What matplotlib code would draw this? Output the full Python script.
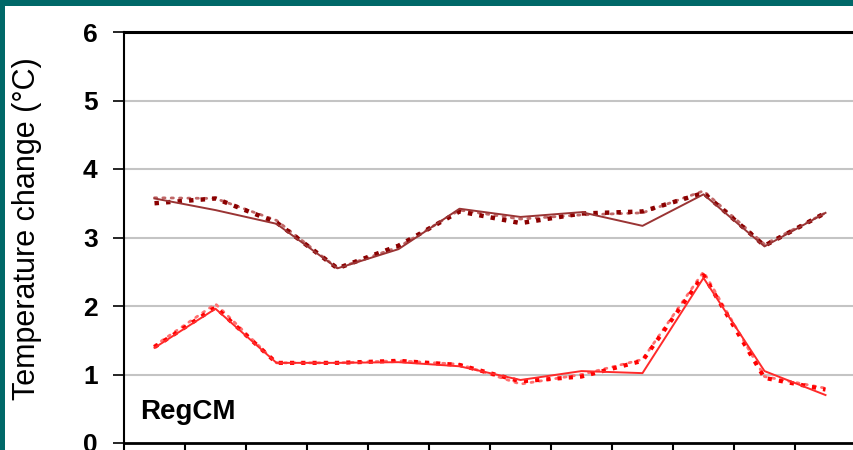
import matplotlib
matplotlib.use("Agg")
import matplotlib.pyplot as plt
from matplotlib.patches import Rectangle
import numpy as np

months = list(range(12))
dark_solid = [3.57, 3.40, 3.20, 2.55, 2.83, 3.42, 3.30, 3.37, 3.17, 3.63, 2.87, 3.36]
dark_square = [3.50, 3.57, 3.22, 2.55, 2.88, 3.38, 3.21, 3.35, 3.38, 3.65, 2.88, 3.36]
dark_round = [3.58, 3.57, 3.25, 2.55, 2.86, 3.40, 3.27, 3.33, 3.36, 3.68, 2.90, 3.36]
red_solid = [1.39, 1.96, 1.17, 1.17, 1.18, 1.12, 0.92, 1.05, 1.02, 2.41, 1.05, 0.70]
red_square = [1.40, 1.98, 1.17, 1.17, 1.20, 1.14, 0.90, 0.97, 1.20, 2.45, 0.95, 0.78]
red_round = [1.42, 2.03, 1.17, 1.17, 1.20, 1.15, 0.86, 1.00, 1.22, 2.50, 0.97, 0.80]
yticks = [0, 1, 2, 3, 4, 5, 6]
ylabel = "Temperature change (°C)"
panel_label = "RegCM"

plt.rcParams['font.family'] = ['Liberation Sans', 'DejaVu Sans']

W, H = 854, 450
fig = plt.figure(figsize=(W / 100, H / 100), dpi=100)
fig.patch.set_facecolor('white')
teal = '#006868'
fig.patches.append(Rectangle((0, 1 - 6 / H), 1, 6 / H, transform=fig.transFigure,
                             facecolor=teal, edgecolor='none', zorder=0))
fig.patches.append(Rectangle((0, 0), 5 / W, 1, transform=fig.transFigure,
                             facecolor=teal, edgecolor='none', zorder=0))

left, right, top, bottom = 124, 856, 32, 443
ax = fig.add_axes([left / W, (H - bottom) / H, (right - left) / W, (bottom - top) / H])
ax.set_facecolor('white')

ax.plot(months, dark_round, color='#C06868', lw=2.0, linestyle=(0, (0.8, 2.2)),
        dash_capstyle='round', zorder=3)
ax.plot(months, dark_square, color='#8B0000', lw=3.2, linestyle=(0, (1, 1.6)),
        dash_capstyle='butt', zorder=4)
ax.plot(months, dark_solid, color='#9A3434', lw=1.4, zorder=5)
ax.plot(months, red_round, color='#FF7070', lw=2.0, linestyle=(0, (0.8, 2.2)),
        dash_capstyle='round', zorder=3)
ax.plot(months, red_square, color='#FF0000', lw=3.0, linestyle=(0, (1, 1.7)),
        dash_capstyle='butt', zorder=4)
ax.plot(months, red_solid, color='#FF2A2A', lw=1.4, zorder=5)

ax.set_xlim(-0.5, 11.5)
ax.set_ylim(0, 6)
ax.set_yticks(yticks)
ax.set_yticklabels([str(t) for t in yticks], fontsize=19, fontweight='bold')
ax.set_xticks(np.arange(-0.5, 12, 1))
ax.set_xticklabels([])
ax.tick_params(axis='y', direction='out', length=8, width=1.2, pad=11)
ax.tick_params(axis='x', direction='out', length=8, width=1.5)
for t in yticks[1:-1]:
    ax.axhline(t, color='#C4C4C4', lw=1.5, zorder=1)
ax.spines['top'].set_linewidth(2.2)
ax.spines['left'].set_linewidth(1.5)
ax.spines['bottom'].set_linewidth(2.0)
ax.spines['right'].set_visible(False)

fig.text(27 / W, 1 - 229 / H, ylabel, fontsize=22, rotation=90,
         ha='center', va='center')
ax.text(0.022, 0.075, panel_label, transform=ax.transAxes, fontsize=20,
        fontweight='bold', ha='left', va='center')

fig.savefig('out.png', dpi=100)
